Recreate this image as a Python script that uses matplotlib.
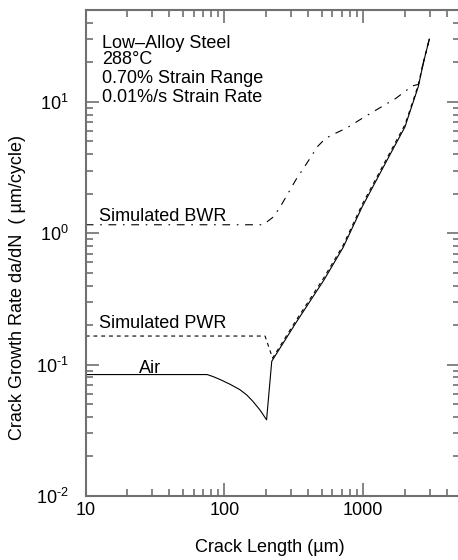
import matplotlib
matplotlib.use("Agg")
import matplotlib.pyplot as plt
from matplotlib.ticker import LogLocator, NullFormatter, FixedLocator, FixedFormatter

plt.rcParams['font.family'] = ['Liberation Sans', 'DejaVu Sans']
plt.rcParams['mathtext.default'] = 'regular'

# crack length (um) vs growth rate (um/cycle)
air_x = [10, 75, 83, 93, 109.5, 129, 144.5, 160, 180, 201, 219, 326, 521, 716, 983,
         1531, 1997, 2108, 2291, 2488, 2704, 2990]
air_y = [0.084, 0.084, 0.081, 0.077, 0.0709, 0.0645, 0.0588, 0.0526, 0.0452, 0.038,
         0.106, 0.207, 0.441, 0.78, 1.594, 3.83, 6.45, 7.69, 10.0, 13.0, 19.6, 30.0]

pwr_x = [10, 196, 222, 326, 521, 716, 983, 1531, 1997, 2291, 2488, 2704, 2990]
pwr_y = [0.165, 0.165, 0.112, 0.215, 0.46, 0.81, 1.66, 3.98, 6.7, 10.3, 13.4, 20.0, 30.0]

bwr_x = [10, 190, 227, 261, 326, 406, 467, 536, 632, 767, 984, 1298, 1710, 2254,
         2500, 2704, 2990]
bwr_y = [1.16, 1.16, 1.34, 1.69, 2.54, 3.61, 4.56, 5.28, 5.77, 6.36, 7.50, 8.93,
         10.6, 13.2, 13.6, 19.6, 30.0]

x_ticks = [10, 100, 1000]
x_ticklabels = ['10', '100', '1000']
y_ticks = [0.01, 0.1, 1, 10]
y_ticklabels = ['$10^{\u20102}$', '$10^{\u20101}$', '$10^{0}$', '$10^{1}$']

info_lines = ['Low\u2013Alloy Steel', '288\u00b0C', '0.70% Strain Range', '0.01%/s Strain Rate']

W, H = 458, 560
fig = plt.figure(figsize=(W / 100, H / 100), dpi=100)
ax = fig.add_axes([85.7 / W, 64 / H, 374.6 / W, 486 / H])

ax.plot(air_x, air_y, color='black', lw=0.8)
ax.plot(pwr_x, pwr_y, color='black', lw=0.8, dashes=(3.5, 3.5))
ax.plot(bwr_x, bwr_y, color='black', lw=0.8, dashes=(7, 6, 1.5, 6))

ax.set_xscale('log')
ax.set_yscale('log')
ax.set_xlim(10, 5000)
ax.set_ylim(0.01, 50)

ax.xaxis.set_major_locator(FixedLocator(x_ticks))
ax.xaxis.set_major_formatter(FixedFormatter(x_ticklabels))
ax.yaxis.set_major_locator(FixedLocator(y_ticks))
ax.yaxis.set_major_formatter(FixedFormatter(y_ticklabels))
for a in (ax.xaxis, ax.yaxis):
    a.set_minor_locator(LogLocator(base=10, subs=range(2, 10)))
    a.set_minor_formatter(NullFormatter())

spine_col = '#707070'
for s in ax.spines.values():
    s.set_color(spine_col)
    s.set_linewidth(1.5)
ax.tick_params(which='both', direction='in', top=True, right=True,
               color=spine_col, labelsize=13, labelcolor='black')
ax.tick_params(which='major', length=9.5, width=1.2)
ax.tick_params(which='minor', length=5, width=1.2)
ax.tick_params(axis='y', which='major', pad=12)
ax.tick_params(axis='x', which='major', pad=4)

# curve labels
ax.text(12.5, 1.247, 'Simulated BWR', fontsize=13, va='baseline')
ax.text(12.5, 0.189, 'Simulated PWR', fontsize=13, va='baseline')
ax.text(24.2, 0.0869, 'Air', fontsize=13, va='baseline')

# condition block
for txt, yb in zip(info_lines, [0.9212, 0.8895, 0.8492, 0.8113]):
    ax.text(0.0428, yb, txt, fontsize=13, va='baseline', transform=ax.transAxes)

fig.text(270 / W, 1 - 548 / H, 'Crack Length (\u00b5m)', fontsize=13,
         ha='center', va='center')
fig.text(18 / W, 1 - 287 / H, 'Crack Growth Rate da/dN  ( \u00b5m/cycle)', fontsize=13,
         ha='center', va='center', rotation=90)

fig.savefig('out.png', dpi=100)
